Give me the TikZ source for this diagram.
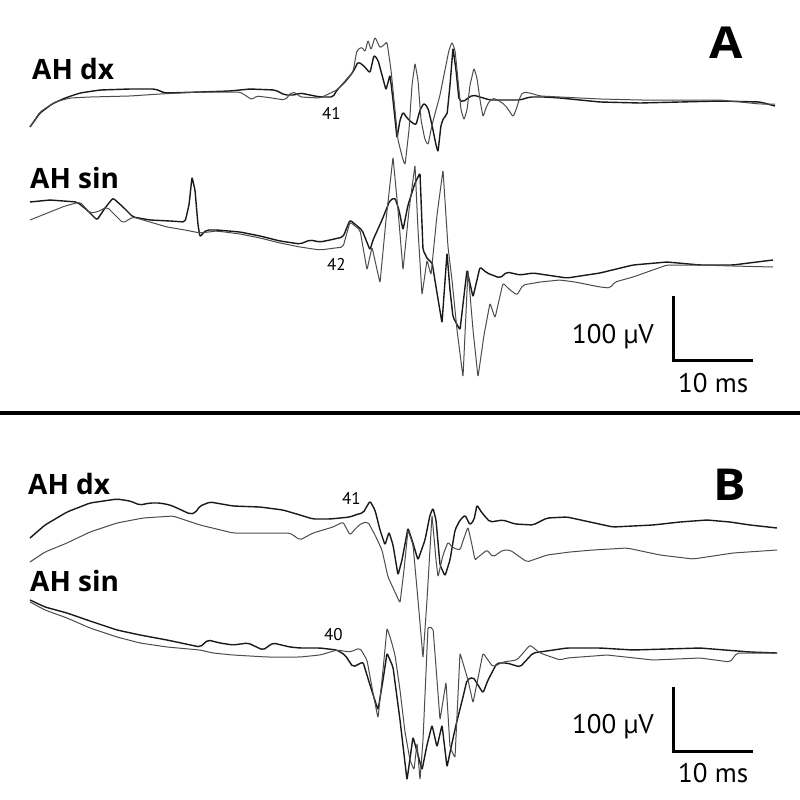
\documentclass[tikz,border=0pt]{standalone}
\usepackage{fontspec}
\setmainfont{PT Sans}
\setsansfont{PT Sans}
\newfontfamily\lblfont{Open Sans}
\begin{document}
\begin{tikzpicture}[x=1pt,y=-1pt,
  lbl/.style={inner sep=0pt,anchor=base west,font=\lblfont\fontsize{28}{30}\selectfont\bfseries},
  panel/.style={inner sep=0pt,anchor=base west,font=\lblfont\fontsize{44}{46}\selectfont\bfseries},
  num/.style={inner sep=0pt,anchor=base west,font=\fontsize{17}{19}\selectfont},
  scl/.style={inner sep=0pt,anchor=base west,font=\fontsize{27}{29}\selectfont},
  dark/.style={line width=1.4pt,black!90,line join=round,rounded corners=2pt},
  grey/.style={line width=1pt,black!70,line join=round,rounded corners=2pt},
  bar/.style={line width=3pt}]
\useasboundingbox (0,0) rectangle (800,800);
\fill[white] (0,0) rectangle (800,800);

% ---------------- Panel A ----------------
\node[panel] (pA) at (709,59) {\scalebox{1.1}[1]{A}};
\node[lbl] (adx) at (32,80) {AH dx};
\node[lbl] (asin) at (30,188) {AH sin};
\node[num] (n41a) at (322,119) {41};
\node[num] (n42a) at (327,270) {42};

% AH dx traces
\draw[dark] (30,127) -- (40,113) -- (52,104) -- (65,98) -- (80,93) -- (100,90) -- (130,89) -- (155,89) -- (160,91) -- (165,93) -- (200,92) -- (230,91) -- (250,89) -- (275,90) -- (285,95) -- (295,95) -- (300,93) -- (320,97) -- (333,97)
 -- (337,90) -- (345,82) -- (353,72) -- (358,62) -- (363,65) -- (370,73) -- (374,55) -- (378,60) -- (382,75) -- (386,90) -- (390,75) -- (393,100) -- (397,138) -- (400,120) -- (403,112) -- (407,118) -- (411,122) -- (416,125) -- (420,110) -- (424,103) -- (428,108) -- (432,125) -- (436,145) -- (438,152) -- (441,125) -- (444,117) -- (447,115) -- (450,85) -- (453,48) -- (456,70) -- (459,100) -- (463,102) -- (468,98) -- (473,95) -- (480,97) -- (490,100) -- (500,100) -- (510,100) -- (520,100) -- (530,97) -- (545,97) -- (560,98) -- (600,102) -- (640,103) -- (680,102) -- (720,101) -- (760,102) -- (775,106);
\draw[grey] (30,127) -- (40,112) -- (55,102) -- (70,98) -- (90,97) -- (130,96) -- (160,94) -- (200,92) -- (240,92) -- (248,97) -- (252,100) -- (256,96) -- (265,97) -- (285,100) -- (292,92) -- (296,93) -- (300,97) -- (320,98)
 -- (337,90) -- (353,72) -- (357,50) -- (362,47) -- (365,52) -- (368,40) -- (371,50) -- (375,37) -- (380,48) -- (385,44) -- (387,42) -- (391,70) -- (395,110) -- (398,140) -- (403,160) -- (405,165) -- (409,130) -- (412,85) -- (415,63) -- (418,80) -- (421,120) -- (425,140) -- (428,145) -- (432,125) -- (436,110) -- (440,95) -- (445,70) -- (449,50) -- (452,42) -- (455,50) -- (458,80) -- (461,110) -- (464,120) -- (467,110) -- (470,85) -- (474,68) -- (477,78) -- (480,100) -- (483,117) -- (487,105) -- (492,98) -- (498,100) -- (505,105) -- (510,112) -- (513,117) -- (516,110) -- (520,97) -- (523,92) -- (530,93) -- (540,96) -- (560,97) -- (600,99) -- (640,100) -- (680,100) -- (720,100) -- (760,104) -- (775,104);

% AH sin traces
\draw[dark] (30,202) -- (50,200) -- (77,202) -- (87,210) -- (97,220) -- (105,208) -- (113,198) -- (123,207) -- (133,217) -- (150,220) -- (170,221) -- (185,222) -- (189,205) -- (192,177) -- (195,190) -- (198,225) -- (200,237) -- (204,232) -- (207,230) -- (217,230) -- (240,232) -- (260,236) -- (280,241) -- (300,244) -- (310,240) -- (320,242) -- (330,240) -- (343,237)
 -- (350,220) -- (362,230) -- (370,250) -- (373,240) -- (382,220) -- (390,200) -- (395,198) -- (399,210) -- (403,230) -- (408,205) -- (415,183) -- (420,173) -- (423,250) -- (428,260) -- (432,262) -- (437,293) -- (442,323) -- (447,253) -- (450,290) -- (453,317) -- (460,330) -- (467,270) -- (473,297) -- (480,267) -- (487,273) -- (500,278) -- (507,272) -- (520,275) -- (533,273) -- (567,278) -- (600,273) -- (633,265) -- (667,262) -- (700,265) -- (733,265) -- (773,260);
\draw[grey] (30,220) -- (50,212) -- (65,206) -- (80,202) -- (90,213) -- (97,212) -- (107,207) -- (115,215) -- (123,223) -- (133,217) -- (150,222) -- (167,227) -- (185,230) -- (200,233) -- (217,231) -- (240,234) -- (260,238) -- (280,243) -- (300,247) -- (320,250) -- (343,247)
 -- (350,222) -- (360,230) -- (367,270) -- (372,247) -- (380,283) -- (386,220) -- (393,157) -- (398,210) -- (403,270) -- (409,210) -- (415,165) -- (418,230) -- (422,295) -- (427,260) -- (431,275) -- (437,215) -- (443,170) -- (448,247) -- (452,280) -- (457,330) -- (463,377) -- (468,270) -- (473,330) -- (478,377) -- (484,335) -- (490,303) -- (495,318) -- (503,283) -- (510,290) -- (517,295) -- (523,285) -- (540,282) -- (560,280) -- (575,282) -- (590,285) -- (600,287) -- (610,288) -- (615,282) -- (633,277) -- (667,265) -- (700,265) -- (733,266) -- (773,267);

% scale bar A
\coordinate (sAt) at (673,296);
\coordinate (sAc) at (673,360);
\coordinate (sAr) at (753,360);
\draw[bar] (sAt) -- (sAc) -- (sAr);
\node[scl] (uvA) at (572,343) {100 µV};
\node[scl] (msA) at (678,392) {10 ms};

% separator
\coordinate (sepL) at (0,413);
\coordinate (sepR) at (800,413);
\draw[line width=4pt] (sepL) -- (sepR);

% ---------------- Panel B ----------------
\node[panel] (pB) at (713,500) {\scalebox{1.1}[1]{B}};
\node[lbl] (bdx) at (28,494) {AH dx};
\node[lbl] (bsin) at (30,591) {AH sin};
\node[num] (n41b) at (342,504) {41};
\node[num] (n40b) at (324,640) {40};

% AH dx traces
\draw[dark] (30,538) -- (45,525) -- (67,512) -- (90,503) -- (117,499) -- (130,501) -- (140,505) -- (150,503) -- (160,503) -- (170,505) -- (177,508) -- (190,514) -- (195,513) -- (200,506) -- (210,502) -- (233,506) -- (260,507) -- (283,510) -- (300,515) -- (313,519) -- (330,519) -- (350,517) -- (358,514) -- (363,513) -- (370,501) -- (375,510) -- (380,530) -- (385,545) -- (389,532) -- (393,545) -- (398,575) -- (402,560) -- (408,528) -- (412,540) -- (418,560) -- (425,540) -- (430,515) -- (433,508) -- (436,520) -- (440,565) -- (445,576) -- (450,560) -- (455,530) -- (460,520) -- (465,515) -- (470,525) -- (474,520) -- (477,505) -- (482,513) -- (490,522) -- (503,520) -- (515,524) -- (533,525) -- (547,518) -- (567,517) -- (590,522) -- (613,527) -- (653,525) -- (680,522) -- (707,520) -- (730,522) -- (750,525) -- (777,528);
\draw[grey] (30,562) -- (45,552) -- (67,543) -- (90,532) -- (117,523) -- (143,518) -- (173,516) -- (200,525) -- (233,533) -- (290,533) -- (300,540) -- (313,533) -- (333,527) -- (343,522) -- (350,535) -- (357,527) -- (362,523) -- (368,522) -- (375,535) -- (382,550) -- (388,577) -- (394,590) -- (400,603) -- (404,570) -- (408,530) -- (413,545) -- (418,600) -- (423,658) -- (427,600) -- (432,515) -- (436,560) -- (438,577) -- (443,555) -- (448,542) -- (453,548) -- (460,550) -- (465,535) -- (468,527) -- (472,545) -- (475,560) -- (477,558) -- (487,550) -- (493,557) -- (503,550) -- (510,550) -- (527,562) -- (547,555) -- (570,552) -- (593,550) -- (627,548) -- (660,555) -- (693,559) -- (733,553) -- (777,550);

% AH sin traces
\draw[dark] (30,600) -- (45,607) -- (67,613) -- (90,621) -- (117,630) -- (140,635) -- (167,640) -- (200,647) -- (208,640) -- (220,643) -- (233,645) -- (248,643) -- (263,650) -- (273,643) -- (290,647) -- (300,648) -- (320,648) -- (337,650) -- (345,655) -- (353,667) -- (363,662) -- (370,685) -- (378,710) -- (383,680) -- (387,653) -- (393,667) -- (400,720) -- (407,780) -- (413,737) -- (418,755) -- (422,770) -- (427,745) -- (432,725) -- (437,747) -- (442,725) -- (447,767) -- (452,743) -- (456,725) -- (463,697) -- (467,680) -- (473,677) -- (483,693) -- (488,680) -- (497,663) -- (507,663) -- (520,667) -- (533,653) -- (567,648) -- (600,648) -- (633,650) -- (700,648) -- (750,652) -- (777,653);
\draw[grey] (30,602) -- (45,610) -- (67,618) -- (90,628) -- (117,637) -- (140,643) -- (167,647) -- (200,650) -- (213,653) -- (233,655) -- (267,657) -- (300,657) -- (320,655) -- (337,650) -- (350,652) -- (360,648) -- (367,660) -- (373,693) -- (378,718) -- (383,670) -- (387,628) -- (391,640) -- (395,655) -- (400,690) -- (405,732) -- (410,760) -- (414,770) -- (417,743) -- (420,780) -- (423,740) -- (428,627) -- (433,628) -- (437,680) -- (440,720) -- (446,682) -- (450,747) -- (455,758) -- (460,653) -- (468,680) -- (473,703) -- (483,653) -- (493,667) -- (503,662) -- (517,660) -- (530,645) -- (540,653) -- (560,660) -- (567,658) -- (607,655) -- (653,660) -- (700,658) -- (730,662) -- (737,653) -- (777,653);

% scale bar B
\coordinate (sBt) at (673,687);
\coordinate (sBc) at (673,751);
\coordinate (sBr) at (753,751);
\draw[bar] (sBt) -- (sBc) -- (sBr);
\node[scl] (uvB) at (572,733) {100 µV};
\node[scl] (msB) at (678,782) {10 ms};
\end{tikzpicture}
\end{document}
